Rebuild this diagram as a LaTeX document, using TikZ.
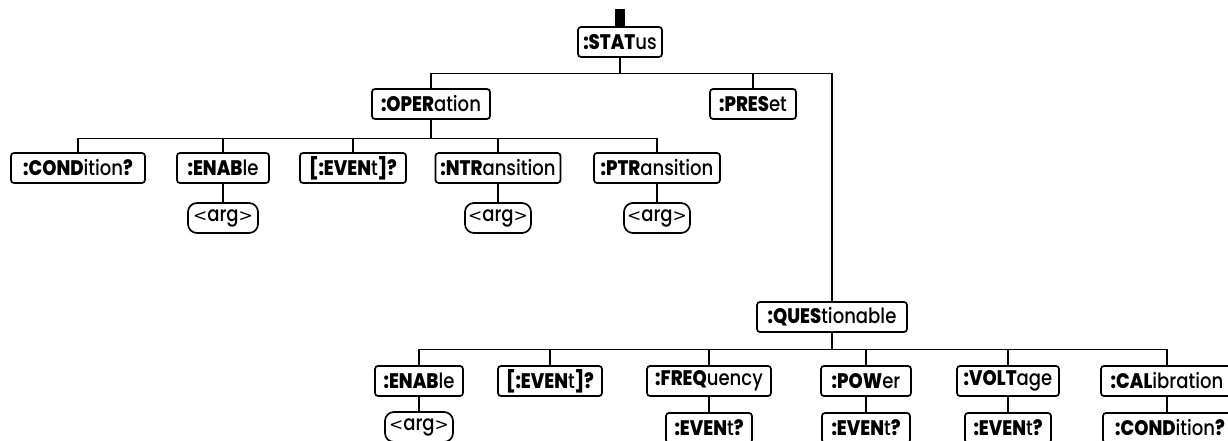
\documentclass[tikz,border=0pt]{standalone}
\usepackage{fontspec}
\setmainfont{Poppins}[FakeStretch=0.86, UprightFont=* Medium, BoldFont=* ExtraBold]
\newfontfamily\symfont{DejaVu Sans}
\newcommand{\argtext}{{\symfont\fontsize{17}{20}\selectfont<}arg{\symfont\fontsize{17}{20}\selectfont>}}
\usetikzlibrary{calc}
\begin{document}
\begin{tikzpicture}[x=1pt,y=-1pt,
  cmd/.style={draw, line width=1.7pt, rounded corners=3pt, minimum height=30pt,
    minimum width=#1, inner sep=0pt, font=\fontsize{21}{23}\selectfont},
  argbox/.style={cmd=#1, rounded corners=9pt},
  wire/.style={line width=1.2pt}]
\useasboundingbox (0,0) rectangle (1228,441);
\clip (0,0) rectangle (1228,441);

% root
\node[cmd=84pt] (stat) at (620,42) {\textbf{:STAT}us};
\fill ([xshift=-5pt]stat.north) rectangle ([xshift=5pt,yshift=17pt]stat.north);

% first level
\node[cmd=118pt] (oper) at (431,104) {\textbf{:OPER}ation};
\node[cmd=86pt]  (pres) at (753,104) {\textbf{:PRES}et};
\node[cmd=150pt] (ques) at (832,317) {\textbf{:QUES}tionable};

% OPERation subsystem
\node[cmd=134pt] (ocond) at (78,168)  {\textbf{:COND}ition\textbf{?}};
\node[cmd=92pt]  (oenab) at (223,168) {\textbf{:ENAB}le};
\node[cmd=106pt] (oevt)  at (353,168) {\textbf{[:EVEN}t\textbf{]?}};
\node[cmd=125pt] (ontr)  at (498,168) {\textbf{:NTR}ansition};
\node[cmd=126pt] (optr)  at (657,168) {\textbf{:PTR}ansition};
\node[argbox=70pt] (oenarg) at (223,218) {\argtext};
\node[argbox=66pt] (ontarg) at (498,218) {\argtext};
\node[argbox=66pt] (optarg) at (657,218) {\argtext};

% QUEStionable subsystem
\node[cmd=88pt]  (qenab) at (419,381)  {\textbf{:ENAB}le};
\node[cmd=104pt] (qevt)  at (550,381)  {\textbf{[:EVEN}t\textbf{]?}};
\node[cmd=124pt] (qfreq) at (709,381)  {\textbf{:FREQ}uency};
\node[cmd=90pt]  (qpow)  at (866,381)  {\textbf{:POW}er};
\node[cmd=102pt] (qvolt) at (1008,381) {\textbf{:VOLT}age};
\node[cmd=132pt] (qcal)  at (1167,381) {\textbf{:CAL}ibration};
\node[argbox=68pt] (qenarg) at (419,427) {\argtext};
\node[cmd=86pt]  (fev) at (709,428)  {\textbf{:EVEN}t\textbf{?}};
\node[cmd=88pt]  (pev) at (866,428)  {\textbf{:EVEN}t\textbf{?}};
\node[cmd=86pt]  (vev) at (1008,428) {\textbf{:EVEN}t\textbf{?}};
\node[cmd=134pt] (cev) at (1170,428) {\textbf{:COND}ition\textbf{?}};

% tree wiring
\foreach \c in {oper,pres,ques}
  \draw[wire] (stat.south) -- ++(0,16) -| (\c.north);
\foreach \c in {ocond,oenab,oevt,ontr,optr}
  \draw[wire] (oper.south) -- ++(0,19) -| (\c.north);
\foreach \c in {qenab,qevt,qfreq,qpow,qvolt,qcal}
  \draw[wire] (ques.south) -- ++(0,17) -| (\c.north);
\draw[wire] (oenab.south) -- (oenarg.north);
\draw[wire] (ontr.south) -- (ontarg.north);
\draw[wire] (optr.south) -- (optarg.north);
\draw[wire] (qenab.south) -- (qenarg.north);
\draw[wire] (qfreq.south) -- (fev.north);
\draw[wire] (qpow.south) -- (pev.north);
\draw[wire] (qvolt.south) -- (vev.north);
\draw[wire] (qcal.south) -- (qcal.south |- cev.north);
\end{tikzpicture}
\end{document}
